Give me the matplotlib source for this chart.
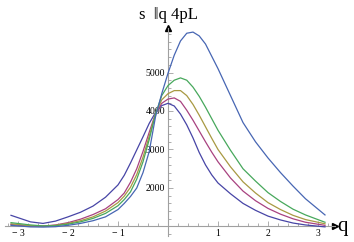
import numpy as np
import matplotlib
matplotlib.use("Agg")
import matplotlib.pyplot as plt
from matplotlib.ticker import MultipleLocator, FixedLocator

# angle grid (q) and the five curves
q = [-3.14, -2.75, -2.5, -2.25, -2.0, -1.75, -1.5, -1.25, -1.0, -0.875, -0.75,
     -0.625, -0.5, -0.375, -0.25, -0.125, 0.0, 0.125, 0.25, 0.375, 0.5, 0.625,
     0.75, 0.875, 1.0, 1.25, 1.5, 1.75, 2.0, 2.25, 2.5, 2.75, 3.14]

s1 = [1290, 1120, 1080, 1140, 1250, 1370, 1530, 1760, 2080, 2330, 2650,
      2990, 3330, 3680, 3960, 4140, 4200, 4130, 3920, 3640, 3300, 2920,
      2600, 2340, 2130, 1850, 1600, 1420, 1270, 1170, 1090, 1040, 990]
s2 = [1050, 1010, 1010, 1040, 1100, 1190, 1310, 1460, 1700, 1870, 2150,
      2500, 2950, 3450, 3930, 4200, 4310, 4340, 4250, 4020, 3760, 3480,
      3200, 2930, 2680, 2260, 1920, 1670, 1470, 1320, 1200, 1110, 1030]
s3 = [1070, 1020, 1010, 1030, 1080, 1150, 1250, 1400, 1620, 1790, 2020,
      2350, 2800, 3350, 3930, 4290, 4450, 4530, 4530, 4400, 4170, 3890,
      3590, 3290, 3000, 2550, 2160, 1870, 1620, 1440, 1290, 1180, 1070]
s4 = [1100, 1040, 1015, 1020, 1060, 1120, 1210, 1340, 1540, 1700, 1900,
      2230, 2680, 3260, 3920, 4400, 4660, 4800, 4860, 4800, 4620, 4380,
      4100, 3800, 3500, 2980, 2500, 2180, 1880, 1650, 1450, 1300, 1110]
s5 = [1030, 990, 985, 995, 1030, 1080, 1150, 1250, 1440, 1600, 1780,
      2000, 2400, 2950, 3850, 4450, 4980, 5450, 5820, 6020, 6050, 5950,
      5740, 5420, 5100, 4400, 3700, 3200, 2780, 2400, 2050, 1720, 1300]

colors = [(0.28, 0.27, 0.65), (0.66, 0.26, 0.50), (0.66, 0.60, 0.26),
          (0.28, 0.66, 0.36), (0.28, 0.40, 0.70)]

xticks = [-3, -2, -1, 1, 2, 3]
xlabels = ["\u2212 3", "\u2212 2", "\u2212 1", "1", "2", "3"]
yticks = [2000, 3000, 4000, 5000]

W, H = 354, 242
fig = plt.figure(figsize=(W / 100, H / 100), dpi=100)
ax = fig.add_axes([5 / W, 6 / H, 330 / W, 208 / H])

for s, c in zip([s1, s2, s3, s4, s5], colors):
    ax.plot(q, s, color=c, lw=0.9, clip_on=False, zorder=3)

ax.set_xlim(-3.26, 3.34)
ax.set_ylim(753, 6156)

for side in ["top", "right"]:
    ax.spines[side].set_visible(False)
ax.spines["left"].set_position(("data", 0))
ax.spines["bottom"].set_position(("data", 1000))
for side in ["left", "bottom"]:
    ax.spines[side].set_color("#a0a0a0")
    ax.spines[side].set_linewidth(0.8)

ax.xaxis.set_major_locator(FixedLocator(xticks))
ax.set_xticklabels(xlabels)
ax.xaxis.set_minor_locator(MultipleLocator(0.2))
ax.yaxis.set_major_locator(FixedLocator(yticks))
ax.yaxis.set_minor_locator(MultipleLocator(200))
ax.tick_params(which="both", direction="in", color="#a0a0a0", width=0.6,
               labelsize=7, pad=2)
ax.tick_params(which="major", length=3.5)
ax.tick_params(which="minor", length=2)
for lab in ax.get_xticklabels() + ax.get_yticklabels():
    lab.set_family("Liberation Serif")

# arrow heads on the axes
ax.plot(1, 1000, marker=">", color="black", ms=5, transform=ax.get_yaxis_transform(),
        clip_on=False)
ax.plot(0, 1, marker="^", color="black", ms=5, transform=ax.get_xaxis_transform(),
        clip_on=False)

fig.text(343 / W, 1 - 226 / H, "q", family="Liberation Serif", fontsize=15,
         ha="center", va="center")
fig.text(139 / W, 1 - 19 / H, "s  \u01c1q 4pL", family=["Liberation Serif", "DejaVu Sans"],
         fontsize=12, ha="left", va="baseline")

fig.savefig("out.png", dpi=100)
